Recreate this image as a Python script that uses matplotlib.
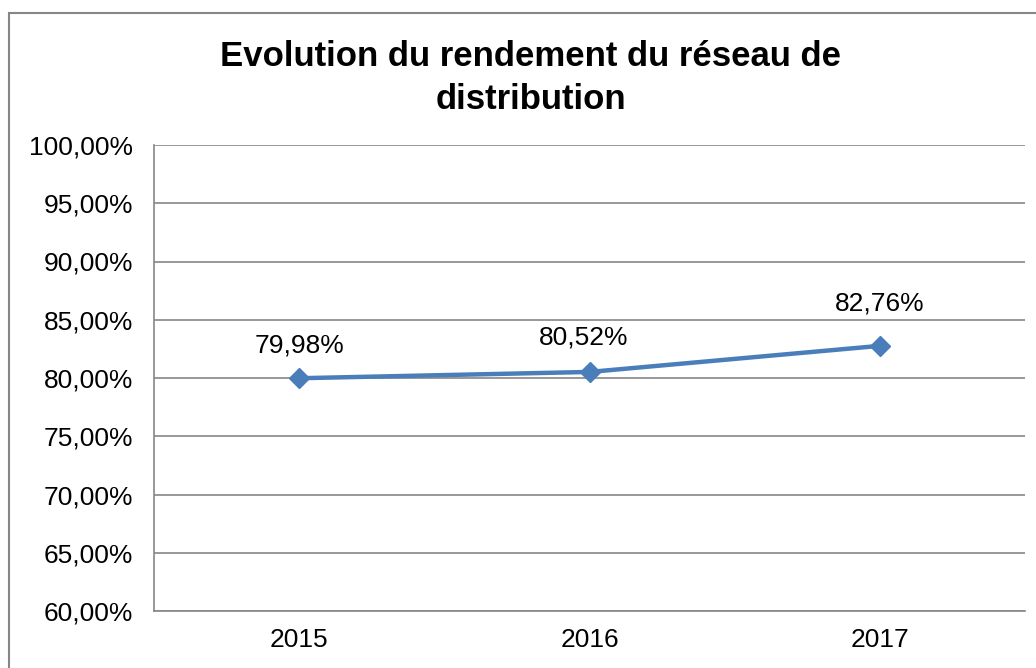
import matplotlib.pyplot as plt
from matplotlib.patches import Rectangle
from matplotlib.ticker import FuncFormatter

# Donnees
annees = ["2015", "2016", "2017"]
rendement = [79.98, 80.52, 82.76]
etiquettes = ["79,98%", "80,52%", "82,76%"]

plt.rcParams['font.family'] = ['Liberation Sans', 'DejaVu Sans']

fig = plt.figure(figsize=(10.36, 6.68), dpi=100)
ax = fig.add_axes([154 / 1036, 1 - 611 / 668, 871 / 1036, 466 / 668])

# cadre exterieur du graphique
fig.patches.append(Rectangle((9 / 1036, -0.1), 1.2, 1 - 13 / 668 + 0.1,
                             transform=fig.transFigure, fill=False,
                             edgecolor='#868686', linewidth=1.5))

x = list(range(len(annees)))
ax.plot(x, rendement, color='#4a7ebb', linewidth=3.2, marker='D',
        markersize=10, zorder=3)

offsets = [(0, 33), (-6, 34), (0, 42)]
for xi, yi, lab, off in zip(x, rendement, etiquettes, offsets):
    ax.annotate(lab, (xi, yi), xytext=off, textcoords='offset pixels',
                ha='center', va='center', fontsize=19)

ax.set_xlim(-0.5, 2.5)
ax.set_ylim(60, 100)
ax.set_yticks(range(60, 101, 5))
ax.yaxis.set_major_formatter(FuncFormatter(lambda v, p: f"{v:.2f}".replace('.', ',') + "%"))
ax.set_xticks(x)
ax.set_xticklabels(annees)
ax.tick_params(axis='both', length=0, labelsize=19)
ax.tick_params(axis='y', pad=15)
ax.tick_params(axis='x', pad=12)

ax.grid(axis='y', color='#868686', linewidth=1.2)
ax.set_axisbelow(True)
for s in ['top', 'right']:
    ax.spines[s].set_visible(False)
ax.spines['left'].set_color('#868686')
ax.spines['bottom'].set_color('#868686')
ax.spines['left'].set_linewidth(1.2)
ax.spines['bottom'].set_linewidth(1.2)

fig.text(531 / 1036, 1 - 78 / 668, "Evolution du rendement du réseau de\ndistribution",
         ha='center', va='center', fontsize=25, fontweight='bold', linespacing=1.35)

fig.savefig('out.png', dpi=100)
